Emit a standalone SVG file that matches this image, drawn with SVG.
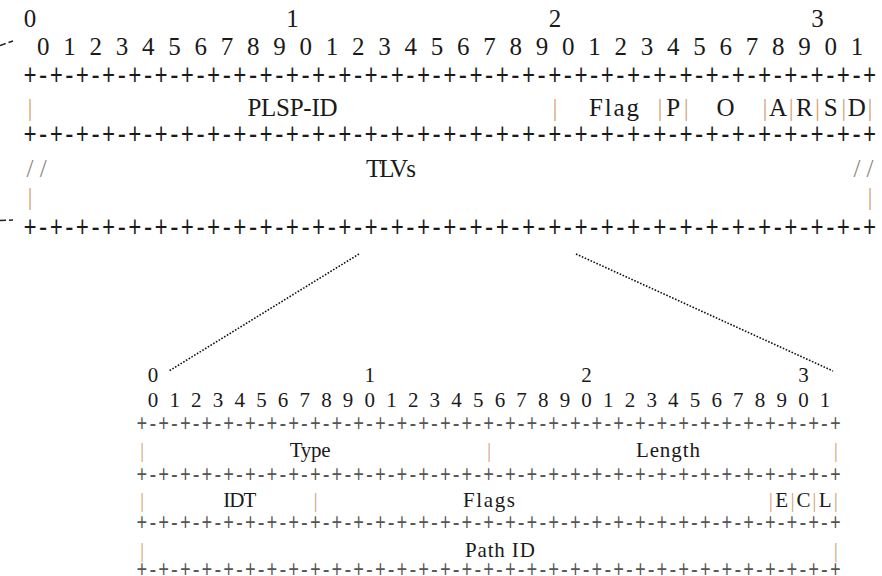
<svg xmlns="http://www.w3.org/2000/svg" width="882" height="576" viewBox="0 0 882 576">
<style>
text{font-family:"Liberation Serif","Times New Roman",serif;fill:#1a1a1a}
.t{font-size:25px}
.s{font-size:21px}
.m{text-anchor:middle}
.dg{font-size:25px;letter-spacing:3.75px}
.ds{font-size:21px;letter-spacing:2.965px}
.pm{font-family:"Liberation Mono","DejaVu Sans Mono",monospace;font-size:22px;letter-spacing:-0.075px}
.ps{font-family:"Liberation Mono","DejaVu Sans Mono",monospace;font-size:18px;letter-spacing:0.04px;fill:#555}
.b{fill:#d4a47c}
.sl{fill:#8f877f}
.dot{fill:none;stroke:#111;stroke-width:1.6;stroke-dasharray:1.6 1.6}
.dash{fill:none;stroke:#222;stroke-width:1.5;stroke-dasharray:6 3}
</style>
<rect width="882" height="576" fill="#fff"/>
<g id="connectors">
<path class="dash" d="M0,45.5 L13,41"/>
<path class="dash" d="M0,220.5 L13,220"/>
<path class="dot" d="M359,254 L169,371"/>
<path class="dot" d="M576,254 L833,371"/>
</g>
<g id="lsp-object">
<text class="t m" x="30" y="27">0</text>
<text class="t m" x="292.5" y="27">1</text>
<text class="t m" x="555" y="27">2</text>
<text class="t m" x="817.5" y="27">3</text>
<text class="dg" x="36.875" y="55">0 1 2 3 4 5 6 7 8 9 0 1 2 3 4 5 6 7 8 9 0 1 2 3 4 5 6 7 8 9 0 1</text>
<text class="pm" transform="matrix(1 0 0 1.3 0 84.5)" x="23.4">+-+-+-+-+-+-+-+-+-+-+-+-+-+-+-+-+-+-+-+-+-+-+-+-+-+-+-+-+-+-+-+-+</text>
<g id="row-plsp">
<text class="t m b" x="30" y="116">|</text>
<text class="t m" x="292.5" y="116" textLength="90" lengthAdjust="spacing">PLSP-ID</text>
<text class="t m b" x="555" y="116">|</text>
<text class="t m" x="614.06" y="116" textLength="50" lengthAdjust="spacing">Flag</text>
<text class="t m b" x="660" y="116">|</text>
<text class="t m" x="673.125" y="116">P</text>
<text class="t m b" x="686.25" y="116">|</text>
<text class="t m" x="725.625" y="116">O</text>
<text class="t m b" x="765" y="116">|</text>
<text class="t m" x="778.125" y="116">A</text>
<text class="t m b" x="791.25" y="116">|</text>
<text class="t m" x="804.375" y="116">R</text>
<text class="t m b" x="817.5" y="116">|</text>
<text class="t m" x="830.625" y="116">S</text>
<text class="t m b" x="843.75" y="116">|</text>
<text class="t m" x="856.875" y="116">D</text>
<text class="t m b" x="870" y="116">|</text>
</g>
<text class="pm" transform="matrix(1 0 0 1.3 0 143.5)" x="23.4">+-+-+-+-+-+-+-+-+-+-+-+-+-+-+-+-+-+-+-+-+-+-+-+-+-+-+-+-+-+-+-+-+</text>
<g id="row-tlvs">
<text class="t m sl" x="30 43.125" y="177">//</text>
<text class="t m" x="390.9" y="177" textLength="50" lengthAdjust="spacing">TLVs</text>
<text class="t m sl" x="856.875 870" y="177">//</text>
<text class="t m b" x="30" y="205">|</text>
<text class="t m b" x="870" y="205">|</text>
</g>
<text class="pm" transform="matrix(1 0 0 1.3 0 237)" x="23.4">+-+-+-+-+-+-+-+-+-+-+-+-+-+-+-+-+-+-+-+-+-+-+-+-+-+-+-+-+-+-+-+-+</text>
</g>
<g id="path-id-tlv">
<text class="s m" x="153" y="382">0</text>
<text class="s m" x="369.8" y="382">1</text>
<text class="s m" x="586.6" y="382">2</text>
<text class="s m" x="803.4" y="382">3</text>
<text class="ds" x="147.75" y="407">0 1 2 3 4 5 6 7 8 9 0 1 2 3 4 5 6 7 8 9 0 1 2 3 4 5 6 7 8 9 0 1</text>
<text class="ps" transform="matrix(1 0 0 1.3 0 431)" x="136.6">+-+-+-+-+-+-+-+-+-+-+-+-+-+-+-+-+-+-+-+-+-+-+-+-+-+-+-+-+-+-+-+-+</text>
<g id="row-type">
<text class="s m b" x="142.16" y="457">|</text>
<text class="s m" x="310.18" y="457" textLength="41" lengthAdjust="spacing">Type</text>
<text class="s m b" x="489.04" y="457">|</text>
<text class="s m" x="667.9" y="457" textLength="64" lengthAdjust="spacing">Length</text>
<text class="s m b" x="835.92" y="457">|</text>
</g>
<text class="ps" transform="matrix(1 0 0 1.3 0 482)" x="136.6">+-+-+-+-+-+-+-+-+-+-+-+-+-+-+-+-+-+-+-+-+-+-+-+-+-+-+-+-+-+-+-+-+</text>
<g id="row-idt">
<text class="s m b" x="142.16" y="507">|</text>
<text class="s m" x="239.72" y="507" textLength="33" lengthAdjust="spacing">IDT</text>
<text class="s m b" x="315.6" y="507">|</text>
<text class="s m" x="489.04" y="507" textLength="52" lengthAdjust="spacing">Flags</text>
<text class="s m b" x="770.88" y="507">|</text>
<text class="s m" x="781.72" y="507">E</text>
<text class="s m b" x="792.56" y="507">|</text>
<text class="s m" x="803.4" y="507">C</text>
<text class="s m b" x="814.24" y="507">|</text>
<text class="s m" x="825.08" y="507">L</text>
<text class="s m b" x="835.92" y="507">|</text>
</g>
<text class="ps" transform="matrix(1 0 0 1.3 0 530)" x="136.6">+-+-+-+-+-+-+-+-+-+-+-+-+-+-+-+-+-+-+-+-+-+-+-+-+-+-+-+-+-+-+-+-+</text>
<g id="row-path">
<text class="s m b" x="142.16" y="557">|</text>
<text class="s m" x="499.88" y="557" textLength="70" lengthAdjust="spacing">Path ID</text>
<text class="s m b" x="835.92" y="557">|</text>
</g>
<text class="ps" transform="matrix(1 0 0 1.3 0 577)" x="136.6">+-+-+-+-+-+-+-+-+-+-+-+-+-+-+-+-+-+-+-+-+-+-+-+-+-+-+-+-+-+-+-+-+</text>
</g>
</svg>
